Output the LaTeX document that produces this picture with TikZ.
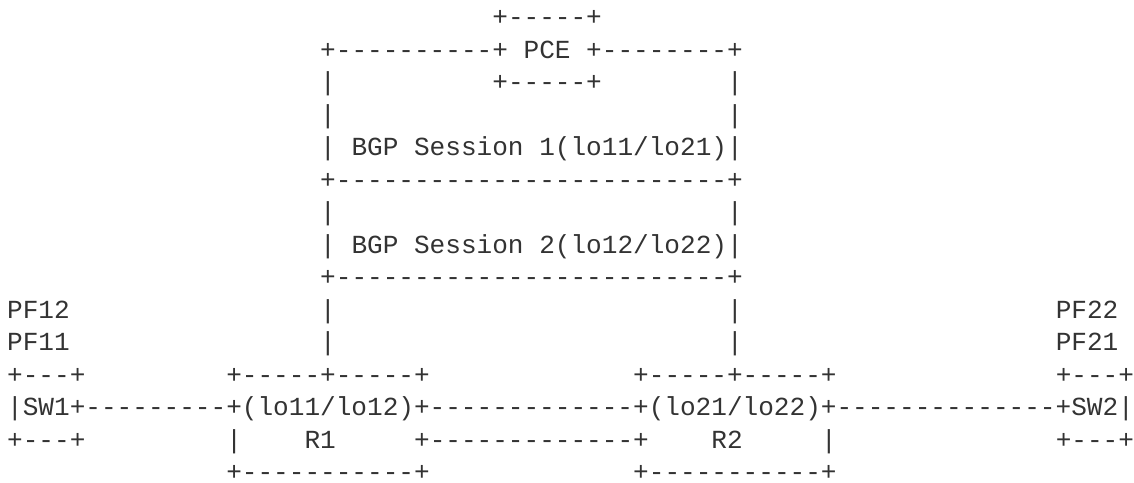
\documentclass[tikz,border=0pt]{standalone}
\usepackage{fontspec}
\newfontfamily\asciimono{Liberation Mono}
\definecolor{ink}{HTML}{333333}
\newcommand\cellat[4]{\node[asciitxt] (#1) at ({3.6pt+#2*7.825pt},{-12.9pt-(#3-1)*16.25pt}) {#4};}
\begin{document}
\begin{tikzpicture}[
  asciitxt/.style={anchor=base west, inner sep=0pt, outer sep=0pt, text=ink,
    font=\asciimono\fontsize{13.04pt}{16.25pt}\selectfont}
]
\useasboundingbox (0,0) rectangle (567pt,-241pt);
% row 1
\cellat{pcetop}{31}{1}{+-----+}
% row 2
\cellat{pcemid}{20}{2}{+----------+ PCE +--------+}
% row 3
\cellat{r3a}{20}{3}{|}
\cellat{pcebot}{31}{3}{+-----+}
\cellat{r3b}{46}{3}{|}
% row 4
\cellat{r4a}{20}{4}{|}
\cellat{r4b}{46}{4}{|}
% row 5
\cellat{bgp1}{20}{5}{| BGP Session 1(lo11/lo21)|}
% row 6
\cellat{sep1}{20}{6}{+-------------------------+}
% row 7
\cellat{r7a}{20}{7}{|}
\cellat{r7b}{46}{7}{|}
% row 8
\cellat{bgp2}{20}{8}{| BGP Session 2(lo12/lo22)|}
% row 9
\cellat{sep2}{20}{9}{+-------------------------+}
% row 10
\cellat{pf12}{0}{10}{PF12}
\cellat{r10a}{20}{10}{|}
\cellat{r10b}{46}{10}{|}
\cellat{pf22}{67}{10}{PF22}
% row 11
\cellat{pf11}{0}{11}{PF11}
\cellat{r11a}{20}{11}{|}
\cellat{r11b}{46}{11}{|}
\cellat{pf21}{67}{11}{PF21}
% row 12
\cellat{sw1top}{0}{12}{+---+}
\cellat{r1top}{14}{12}{+-----+-----+}
\cellat{r2top}{40}{12}{+-----+-----+}
\cellat{sw2top}{67}{12}{+---+}
% row 13
\cellat{mainline}{0}{13}{|SW1+---------+(lo11/lo12)+-------------+(lo21/lo22)+--------------+SW2|}
% row 14
\cellat{sw1bot}{0}{14}{+---+}
\cellat{r1left}{14}{14}{|}
\cellat{r1name}{19}{14}{R1}
\cellat{r1r2link}{26}{14}{+-------------+}
\cellat{r2name}{45}{14}{R2}
\cellat{r2right}{52}{14}{|}
\cellat{sw2bot}{67}{14}{+---+}
% row 15
\cellat{r1bot}{14}{15}{+-----------+}
\cellat{r2bot}{40}{15}{+-----------+}
\end{tikzpicture}
\end{document}
